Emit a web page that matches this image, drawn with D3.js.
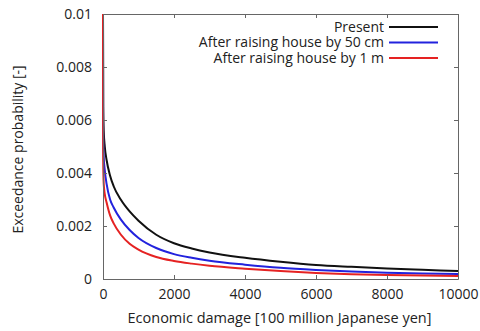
<!DOCTYPE html>
<html lang="en">
    <head>
        <title>Exceedance probability curve</title>
        <meta charset="UTF-8">
        <script src="https://d3js.org/d3.v7.min.js"></script>
    </head>
    <style>
        body { margin: 0; background: #fff; }
        text { font-family: "Open Sans", "Noto Sans", sans-serif; fill: #222; }
    </style>
    <body>
        <script>
            const width = 480
            const height = 331
            const margin = { top: 14, right: 22, bottom: 52, left: 103 }

            // damage values [100 million yen] and exceedance probabilities
            const damage = [0, 5, 20, 50, 100, 200, 300, 500, 750, 1000, 1500, 2000, 2500, 3000, 4000, 5000, 6000, 7000, 8000, 9000, 10000]
            const present = [0.01, 0.0065, 0.0056, 0.005, 0.0045, 0.0039, 0.0035, 0.003, 0.00255, 0.0022, 0.00167, 0.00135, 0.00115, 0.001, 0.0008, 0.00065, 0.00053, 0.00046, 0.0004, 0.00035, 0.0003]
            const raised50 = [0.01, 0.0055, 0.0046, 0.0041, 0.0036, 0.003, 0.0027, 0.00225, 0.00185, 0.00155, 0.00117, 0.00094, 0.0008, 0.00069, 0.00054, 0.00042, 0.00034, 0.00028, 0.00024, 0.00021, 0.00019]
            const raised100 = [0.01, 0.0045, 0.0036, 0.0032, 0.0029, 0.0024, 0.0021, 0.00168, 0.00133, 0.00111, 0.00083, 0.00068, 0.00058, 0.0005, 0.00039, 0.0003, 0.00023, 0.00018, 0.00015, 0.00013, 0.00011]

            const seriesNames = ["Present", "After raising house by 50 cm", "After raising house by 1 m"]
            const seriesColors = ["#111111", "#2222dd", "#e52222"]
            const xTicks = [0, 2000, 4000, 6000, 8000, 10000]
            const yTicks = [0, 0.002, 0.004, 0.006, 0.008, 0.01]

            const series = [present, raised50, raised100]

            const svg = d3.select("body")
                .append("svg")
                .attr("width", width)
                .attr("height", height)

            const x = d3.scaleLinear()
                .domain([0, 10000])
                .range([margin.left, width - margin.right])
            const y = d3.scaleLinear()
                .domain([0, 0.01])
                .range([height - margin.bottom, margin.top])

            const line = d3.line()
                .x(function (d) { return x(d[0]) })
                .y(function (d) { return y(d[1]) })
                .curve(d3.curveMonotoneX)

            // curves
            series.forEach(function (vals, i) {
                svg.append("path")
                    .datum(damage.map(function (d, j) { return [d, vals[j]] }))
                    .attr("fill", "none")
                    .attr("stroke", seriesColors[i])
                    .attr("stroke-width", 2)
                    .attr("d", line)
            })

            // axes, ticks inward, mirrored on top and right
            const fmtY = function (d) { return d === 0 ? "0" : String(+d.toFixed(3)) }
            const bottomAxis = svg.append("g")
                .attr("transform", `translate(0, ${height - margin.bottom})`)
                .call(d3.axisBottom(x).tickValues(xTicks).tickFormat(d3.format("d")).tickSizeInner(-4).tickSizeOuter(0).tickPadding(10))
            const leftAxis = svg.append("g")
                .attr("transform", `translate(${margin.left}, 0)`)
                .call(d3.axisLeft(y).tickValues(yTicks).tickFormat(fmtY).tickSizeInner(-4).tickSizeOuter(0).tickPadding(11))
            const topAxis = svg.append("g")
                .attr("transform", `translate(0, ${margin.top})`)
                .call(d3.axisTop(x).tickValues(xTicks).tickSizeInner(-4).tickSizeOuter(0).tickFormat(""))
            const rightAxis = svg.append("g")
                .attr("transform", `translate(${width - margin.right}, 0)`)
                .call(d3.axisRight(y).tickValues(yTicks).tickSizeInner(-4).tickSizeOuter(0).tickFormat(""))

            ;[bottomAxis, leftAxis, topAxis, rightAxis].forEach(function (g) {
                g.select(".domain").attr("stroke", "#666")
                g.selectAll(".tick line").attr("stroke", "#666")
                g.selectAll(".tick text")
                    .style("font-size", "14px")
                    .style("font-family", "'Open Sans', sans-serif")
                    .attr("fill", "#222")
            })

            // axis titles
            svg.append("text")
                .attr("x", (margin.left + width - margin.right) / 2 - 1)
                .attr("y", height - 8)
                .attr("text-anchor", "middle")
                .style("font-size", "14.5px")
                .text("Economic damage [100 million Japanese yen]")

            svg.append("text")
                .attr("transform", `translate(23, ${(margin.top + height - margin.bottom) / 2 + 3}) rotate(-90)`)
                .attr("text-anchor", "middle")
                .style("font-size", "14px")
                .text("Exceedance probability [-]")

            // legend
            const legend = svg.selectAll(".legend")
                .data(seriesNames)
                .enter()
                .append("g")
                .attr("class", "legend")
                .attr("transform", function (d, i) { return `translate(0, ${27 + i * 15.5})` })

            legend.append("text")
                .attr("x", 384)
                .attr("dy", "0.35em")
                .attr("text-anchor", "end")
                .style("font-size", "14px")
                .text(function (d) { return d })

            legend.append("line")
                .attr("x1", 389)
                .attr("x2", 438)
                .attr("stroke", function (d, i) { return seriesColors[i] })
                .attr("stroke-width", 2)
        </script>
    </body>
</html>
